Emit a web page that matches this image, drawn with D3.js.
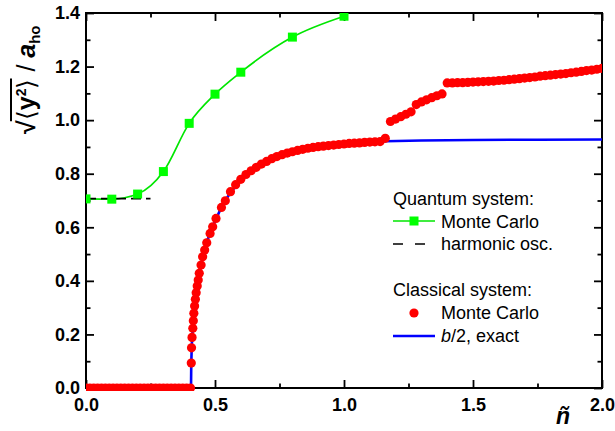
<!DOCTYPE html>
<html>
<head>
<meta charset="utf-8">
<script src="https://cdn.jsdelivr.net/npm/d3@7"></script>
<style>
  body { margin: 0; background: #fff; }
  svg text { font-family: "Liberation Sans", Arial, sans-serif; }
</style>
</head>
<body>
<div id="chart"></div>
<script>
// Quantum system, Monte Carlo (green squares + line)
const quantumX = [0, 0.1, 0.2, 0.3, 0.4, 0.5, 0.6, 0.8, 1.0];
const quantumY = [0.706, 0.705, 0.724, 0.808, 0.988, 1.097, 1.179, 1.31, 1.388];

// harmonic oscillator limit (dashed)
const harmonicX = [0, 0.25];
const harmonicY = [0.707, 0.707];

// b/2, exact (blue)
const exactX = [0, 0.407, 0.408, 0.410, 0.413, 0.418, 0.425, 0.433, 0.442, 0.455, 0.470, 0.490,
  0.520, 0.550, 0.600, 0.650, 0.700, 0.800, 0.900, 1.000, 1.100, 1.160, 1.300, 1.500, 1.750, 2.000];
const exactY = [0, 0, 0.09, 0.16, 0.21, 0.26, 0.32, 0.38, 0.44, 0.50, 0.55, 0.60,
  0.665, 0.715, 0.779, 0.818, 0.846, 0.882, 0.901, 0.911, 0.918, 0.921, 0.924, 0.926, 0.927, 0.928];

// Classical system, Monte Carlo (red circles)
const classicalX = [
  0, 0.015, 0.03, 0.045, 0.06, 0.075, 0.09, 0.105, 0.12, 0.135, 0.15, 0.165, 0.18, 0.195,
  0.21, 0.225, 0.24, 0.255, 0.27, 0.285, 0.30, 0.315, 0.33, 0.345, 0.36, 0.375, 0.39, 0.405,
  0.408, 0.409, 0.411, 0.414, 0.416, 0.418, 0.421, 0.424, 0.427, 0.431, 0.435, 0.439,
  0.446, 0.452, 0.460, 0.468, 0.481, 0.491, 0.504, 0.525,
  0.54, 0.56, 0.58, 0.60, 0.62, 0.64, 0.66, 0.68, 0.70, 0.72, 0.74, 0.76, 0.78, 0.80,
  0.82, 0.84, 0.86, 0.88, 0.90, 0.92, 0.94, 0.96, 0.98, 1.00, 1.02, 1.04, 1.06, 1.08,
  1.10, 1.12, 1.14, 1.16,
  1.18, 1.20, 1.22, 1.24, 1.26,
  1.28, 1.30, 1.32, 1.34, 1.36, 1.38,
  1.40, 1.42, 1.44, 1.46, 1.48, 1.50, 1.52, 1.54, 1.56, 1.58, 1.60, 1.62, 1.64, 1.66,
  1.68, 1.70, 1.72, 1.74, 1.76, 1.78, 1.80, 1.82, 1.84, 1.86, 1.88, 1.90, 1.92, 1.94,
  1.96, 1.98, 2.00
];
const classicalY = [
  0, 0, 0, 0, 0, 0, 0, 0, 0, 0, 0, 0, 0, 0,
  0, 0, 0, 0, 0, 0, 0, 0, 0, 0, 0, 0, 0, 0,
  0.093, 0.150, 0.189, 0.223, 0.251, 0.279, 0.306, 0.331, 0.356, 0.381, 0.403, 0.428,
  0.459, 0.490, 0.515, 0.542, 0.577, 0.602, 0.633, 0.674,
  0.699, 0.733, 0.759, 0.779, 0.797, 0.811, 0.824, 0.836, 0.846, 0.856, 0.864, 0.871, 0.877, 0.882,
  0.887, 0.891, 0.895, 0.898, 0.901, 0.903, 0.905, 0.907, 0.909, 0.911, 0.913, 0.914, 0.915, 0.917,
  0.918, 0.919, 0.920, 0.932,
  0.995, 1.004, 1.013, 1.022, 1.031,
  1.058, 1.068, 1.076, 1.084, 1.091, 1.098,
  1.139, 1.139, 1.140, 1.140, 1.141, 1.142, 1.143, 1.144, 1.145, 1.146, 1.148, 1.149, 1.151, 1.153,
  1.155, 1.157, 1.159, 1.161, 1.164, 1.166, 1.168, 1.170, 1.172, 1.174, 1.177, 1.179, 1.182, 1.185,
  1.187, 1.190, 1.193
];

// ticks
const xTicks = [0, 0.5, 1.0, 1.5, 2.0];
const xMinorTicks = [0.25, 0.75, 1.25, 1.75];
const yTicks = [0, 0.2, 0.4, 0.6, 0.8, 1.0, 1.2, 1.4];
const yMinorTicks = [0.1, 0.3, 0.5, 0.7, 0.9, 1.1, 1.3];

const width = 615;
const height = 431;
const plot = { left: 86, right: 602, top: 13, bottom: 388 };

const svg = d3.select("#chart")
  .append("svg")
  .attr("width", width)
  .attr("height", height);

const x = d3.scaleLinear().domain([0, 2]).range([plot.left, plot.right]);
const y = d3.scaleLinear().domain([0, 1.4]).range([plot.bottom, plot.top]);

// axes (ticks inward on all four sides)
function styleAxis(g, labels) {
  g.select(".domain").remove();
  g.attr("font-family", null).attr("font-size", null);
  g.selectAll(".tick line").attr("stroke", "#000").attr("stroke-width", 1.8);
  g.selectAll(".tick text")
    .attr("fill", "#000")
    .style("font-size", "18px")
    .style("font-weight", "bold");
  if (!labels) g.selectAll(".tick text").remove();
}

svg.append("g").attr("transform", `translate(0,${plot.bottom})`)
  .call(d3.axisBottom(x).tickValues(xTicks).tickSize(-8).tickPadding(10).tickFormat(d3.format(".1f")))
  .call(g => styleAxis(g, true));
svg.append("g").attr("transform", `translate(0,${plot.bottom})`)
  .call(d3.axisBottom(x).tickValues(xMinorTicks).tickSize(-4.5))
  .call(g => styleAxis(g, false));
svg.append("g").attr("transform", `translate(0,${plot.top})`)
  .call(d3.axisTop(x).tickValues(xTicks).tickSize(-8))
  .call(g => styleAxis(g, false));
svg.append("g").attr("transform", `translate(0,${plot.top})`)
  .call(d3.axisTop(x).tickValues(xMinorTicks).tickSize(-4.5))
  .call(g => styleAxis(g, false));

svg.append("g").attr("transform", `translate(${plot.left},0)`)
  .call(d3.axisLeft(y).tickValues(yTicks).tickSize(-8).tickPadding(6).tickFormat(d3.format(".1f")))
  .call(g => styleAxis(g, true));
svg.append("g").attr("transform", `translate(${plot.left},0)`)
  .call(d3.axisLeft(y).tickValues(yMinorTicks).tickSize(-4.5))
  .call(g => styleAxis(g, false));
svg.append("g").attr("transform", `translate(${plot.right},0)`)
  .call(d3.axisRight(y).tickValues(yTicks).tickSize(-8))
  .call(g => styleAxis(g, false));
svg.append("g").attr("transform", `translate(${plot.right},0)`)
  .call(d3.axisRight(y).tickValues(yMinorTicks).tickSize(-4.5))
  .call(g => styleAxis(g, false));

// frame
svg.append("rect")
  .attr("x", plot.left)
  .attr("y", plot.top)
  .attr("width", plot.right - plot.left)
  .attr("height", plot.bottom - plot.top)
  .attr("fill", "none")
  .attr("stroke", "#000")
  .attr("stroke-width", 2);

// clip for marks
svg.append("clipPath").attr("id", "clip")
  .append("rect")
  .attr("x", plot.left)
  .attr("y", plot.top)
  .attr("width", plot.right - plot.left)
  .attr("height", plot.bottom - plot.top + 3);

const marks = svg.append("g").attr("clip-path", "url(#clip)");

const quantum = quantumX.map((d, i) => [d, quantumY[i]]);
const harmonic = harmonicX.map((d, i) => [d, harmonicY[i]]);
const exact = exactX.map((d, i) => [d, exactY[i]]);
const classical = classicalX.map((d, i) => [d, classicalY[i]]);

const line = d3.line().x(d => x(d[0])).y(d => y(d[1]));

// green line
marks.append("path")
  .datum(quantum)
  .attr("d", line.curve(d3.curveMonotoneX))
  .attr("fill", "none")
  .attr("stroke", "#00e600")
  .attr("stroke-width", 1.7);

// harmonic osc.
marks.append("path")
  .datum(harmonic)
  .attr("d", d3.line().x(d => x(d[0])).y(d => y(d[1])))
  .attr("fill", "none")
  .attr("stroke", "#000")
  .attr("stroke-width", 1.7)
  .attr("stroke-dasharray", "10,5");

// b/2 exact
marks.append("path")
  .datum(exact)
  .attr("d", d3.line().x(d => x(d[0])).y(d => y(d[1])))
  .attr("fill", "none")
  .attr("stroke", "#0000ff")
  .attr("stroke-width", 2.6);

// classical MC circles
marks.selectAll("circle.mc")
  .data(classical)
  .enter()
  .append("circle")
  .attr("class", "mc")
  .attr("cx", d => x(d[0]))
  .attr("cy", d => y(d[1]))
  .attr("r", 4.6)
  .attr("fill", "#ff0000");

// quantum MC squares
marks.selectAll("rect.qmc")
  .data(quantum)
  .enter()
  .append("rect")
  .attr("class", "qmc")
  .attr("x", d => x(d[0]) - 4.5)
  .attr("y", d => y(d[1]) - 4.5)
  .attr("width", 9)
  .attr("height", 9)
  .attr("fill", "#00ff00");

// legend
const lg = svg.append("g").style("font-size", "18px").attr("fill", "#000");
lg.append("text").attr("x", 393).attr("y", 205).text("Quantum system:");
lg.append("line").attr("x1", 393).attr("x2", 435).attr("y1", 221).attr("y2", 221)
  .attr("stroke", "#00e600").attr("stroke-width", 1.7);
lg.append("rect").attr("x", 409.5).attr("y", 216.5).attr("width", 9).attr("height", 9).attr("fill", "#00ff00");
lg.append("text").attr("x", 441).attr("y", 227.5).text("Monte Carlo");
lg.append("line").attr("x1", 393).attr("x2", 435).attr("y1", 244).attr("y2", 244)
  .attr("stroke", "#000").attr("stroke-width", 1.7).attr("stroke-dasharray", "10,12");
lg.append("text").attr("x", 441).attr("y", 250).text("harmonic osc.");
lg.append("text").attr("x", 393).attr("y", 296).text("Classical system:");
lg.append("circle").attr("cx", 414).attr("cy", 313).attr("r", 4.6).attr("fill", "#ff0000");
lg.append("text").attr("x", 441).attr("y", 319).text("Monte Carlo");
lg.append("line").attr("x1", 393).attr("x2", 435).attr("y1", 336).attr("y2", 336)
  .attr("stroke", "#0000ff").attr("stroke-width", 2.6);
const bt = lg.append("text").attr("x", 441).attr("y", 342);
bt.append("tspan").style("font-style", "italic").text("b");
bt.append("tspan").text("/2, exact");

// x label
svg.append("text")
  .attr("x", 563)
  .attr("y", 424)
  .attr("text-anchor", "middle")
  .style("font-size", "23px")
  .style("font-weight", "bold")
  .style("font-style", "italic")
  .text("ñ");

// y label: sqrt(<y^2>) / a_ho, rotated
const yl = svg.append("g").attr("transform", "translate(35,134) rotate(-90)");
const yt = yl.append("text").attr("x", 0).attr("y", 0).style("font-size", "25px");
yt.append("tspan").style("font-weight", "bold").text("√");
yt.append("tspan").text("⟨");
yt.append("tspan").style("font-weight", "bold").text("y");
yt.append("tspan").attr("dy", -9).style("font-size", "14px").style("font-weight", "bold").text("2");
yt.append("tspan").attr("dy", 9).text("⟩");
yt.append("tspan").text(" / ");
yt.append("tspan").style("font-weight", "bold").style("font-style", "italic").text("a");
yt.append("tspan").attr("dy", 5).style("font-size", "15px").style("font-weight", "bold").text("ho");

// vinculum of the root over <y^2>
const node = yt.node();
const x0 = node.getEndPositionOfChar(0).x - 1;
const x1 = node.getEndPositionOfChar(4).x;
yl.append("line")
  .attr("x1", x0).attr("x2", x1)
  .attr("y1", -24).attr("y2", -24)
  .attr("stroke", "#000")
  .attr("stroke-width", 2);
</script>
</body>
</html>
